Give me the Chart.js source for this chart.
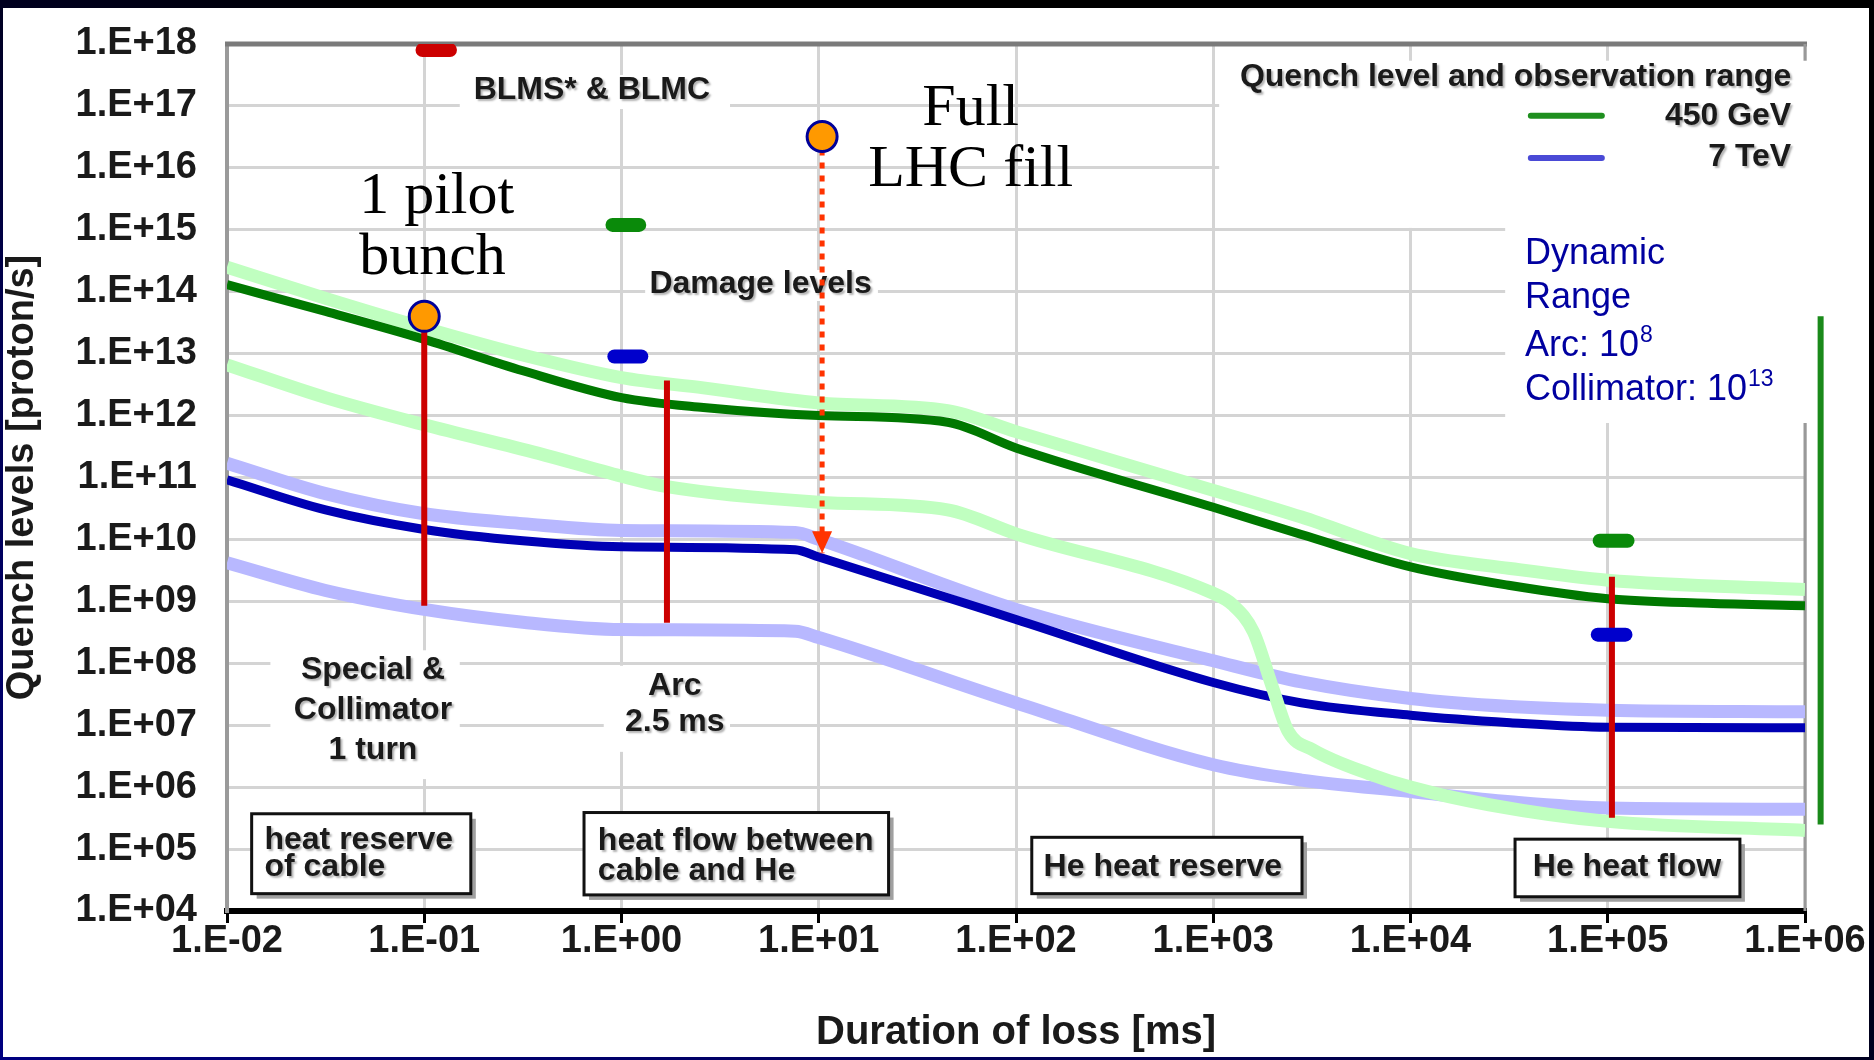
<!DOCTYPE html>
<html>
<head>
<meta charset="utf-8">
<title>Quench levels</title>
<script src="https://cdn.jsdelivr.net/npm/chart.js@4.4.1/dist/chart.umd.min.js"></script>
<style>
  html, body { margin: 0; padding: 0; }
  body {
    width: 1874px; height: 1060px; overflow: hidden; position: relative;
    background: linear-gradient(to top right, #000080 0%, #000050 35%, #000 60%);
  }
  #sheet { position: absolute; left: 3px; top: 8px; right: 5px; bottom: 3px; background: #fff; }
  #wrap { position: absolute; left: 0; top: 0; width: 1874px; height: 1060px; }
</style>
</head>
<body>
<div id="sheet"></div>
<div id="wrap"><canvas id="chart" width="1874" height="1060"></canvas></div>
<script>
// axis ticks
const xTickValues = [1e-2, 1e-1, 1e0, 1e1, 1e2, 1e3, 1e4, 1e5, 1e6];
const xTickLabels = ['1.E-02', '1.E-01', '1.E+00', '1.E+01', '1.E+02', '1.E+03', '1.E+04', '1.E+05', '1.E+06'];
const yTickValues = [1e4, 1e5, 1e6, 1e7, 1e8, 1e9, 1e10, 1e11, 1e12, 1e13, 1e14, 1e15, 1e16, 1e17, 1e18];
const yTickLabels = ['1.E+04', '1.E+05', '1.E+06', '1.E+07', '1.E+08', '1.E+09', '1.E+10', '1.E+11',
                     '1.E+12', '1.E+13', '1.E+14', '1.E+15', '1.E+16', '1.E+17', '1.E+18'];

// 450 GeV: quench level and observation range (duration in ms, protons/s)
const dur450 = [0.01, 0.0316, 0.1, 0.316, 1, 2.6, 10, 45, 100, 1000, 2800, 1e4, 3.2e4, 1e5, 3.2e5, 1e6];
const quench450 = [1.3e14, 4.8e13, 1.7e13, 5.3e12, 1.95e12, 1.35e12, 1.0e12, 7.8e11, 3.0e11, 3.3e10,
                   1.2e10, 3.6e9, 1.8e9, 1.1e9, 9.3e8, 8.5e8];
const dur450Up = [0.01, 0.0316, 0.1, 0.316, 1, 2.6, 10, 45, 100, 1000, 2800, 1e4, 3.2e4, 1e5, 1e6];
const range450Up = [2.5e14, 7.8e13, 2.6e13, 9.5e12, 4.1e12, 2.8e12, 1.6e12, 1.2e12, 5.5e11, 6.2e10,
                    2.3e10, 5.9e9, 3.4e9, 2.2e9, 1.55e9];
const dur450Low = [0.01, 0.0316, 0.1, 0.38, 1, 1.7, 10, 45, 100, 1000, 1250, 1600, 2000, 2400, 3200,
                   6300, 1e4, 2.5e4, 1e5, 1e6];
const range450Low = [6.6e12, 1.95e12, 7.1e11, 2.45e11, 1.05e11, 7.1e10, 4.0e10, 3.0e10, 1.23e10, 1.35e9,
                     8.9e8, 3.2e8, 4.0e7, 7.9e6, 4.0e6, 1.6e6, 1.0e6, 5.2e5, 2.8e5, 2.0e5];

// 7 TeV: quench level and observation range
const dur7 = [0.01, 0.0316, 0.1, 0.316, 1, 7.6, 10, 100, 1000, 2800, 1e4, 3.2e4, 1e5, 1e6];
const quench7 = [9.2e10, 3.0e10, 1.45e10, 9.5e9, 7.6e9, 6.8e9, 5.2e9, 5.1e8, 4.9e7, 2.3e7, 1.45e7,
                 1.1e7, 9.3e6, 9.1e6];
const range7Up = [1.7e11, 5.5e10, 2.6e10, 1.8e10, 1.4e10, 1.3e10, 1.0e10, 7.4e8, 1.1e8, 5.0e7, 2.7e7,
                  2.0e7, 1.75e7, 1.65e7];
const range7Low = [4.2e9, 1.5e9, 7.4e8, 4.6e8, 3.5e8, 3.3e8, 2.6e8, 2.3e7, 2.3e6, 1.3e6, 8.5e5, 5.8e5,
                   4.6e5, 4.4e5];

// BLM observation ranges (red bars)
const redX = [0.1, 1.7, 1.05e5];
const redTop = [4e13, 3.7e12, 2.5e9];
const redBottom = [8.5e8, 4.5e8, 3.2e5];

// damage levels (short bars)
const damageFrom = [0.098, 0.9, 0.92, 9.1e4, 8.9e4];
const damageTo = [0.135, 1.23, 1.26, 1.26e5, 1.23e5];
const damageLevel = [8e17, 1.2e15, 9e12, 9.5e9, 2.9e8];

// beam intensities: 1 pilot bunch, full LHC fill
const beamX = [0.1, 10.4];
const beamY = [4e13, 3.2e16];
const fillDropY = [3.2e16, 6e9];

// dynamic range bar on the right
const rangeBarX = 1.2e6;
const rangeBarY = [4e13, 2.5e5];

const damageColors = ['#cc0000', '#0a8a0a', '#0000cc', '#0a8a0a', '#0000cc'];

const P = e => Math.pow(10, e);
const pts = (xs, ys) => xs.map((x, i) => ({x, y: ys[i]}));

// annotation layout, in decades (log10 of axis values)
const whitePatches = [
  {x: [3.03, 6.02], y: [15.03, 17.73]},
  {x: [4.48, 6.02], y: [11.88, 15.05]},
  {x: [-0.82, 0.55], y: [16.95, 17.5]},
  {x: [0.12, 1.3], y: [13.85, 14.35]},
  {x: [-1.78, -0.82], y: [6.13, 8.21]},
  {x: [-0.09, 0.55], y: [6.57, 7.96]}
];
const grayNotes = [
  {text: 'BLMS* & BLMC', x: -0.15, y: 17.25, align: 'center'},
  {text: 'Damage levels', x: 0.705, y: 14.12, align: 'center'},
  {text: 'Special &', x: -1.26, y: 7.89, align: 'center'},
  {text: 'Collimator', x: -1.26, y: 7.25, align: 'center'},
  {text: '1 turn', x: -1.26, y: 6.59, align: 'center'},
  {text: 'Arc', x: 0.27, y: 7.63, align: 'center'},
  {text: '2.5 ms', x: 0.27, y: 7.05, align: 'center'},
  {text: 'Quench level and observation range', x: 5.93, y: 17.47, align: 'right'},
  {text: '450 GeV', x: 5.93, y: 16.83, align: 'right'},
  {text: '7 TeV', x: 5.93, y: 16.17, align: 'right'}
];
const legendLines = [
  {y: 16.84, color: '#1f8f1f'},
  {y: 16.16, color: '#4a4ad6'}
];
const framedBoxes = [
  {x: [-1.875, -0.764], y: [4.28, 5.57], tx: -1.81, ty: [5.15, 4.7], lines: ['heat reserve', 'of cable']},
  {x: [-0.19, 1.354], y: [4.26, 5.59], tx: -0.12, ty: [5.13, 4.65], lines: ['heat flow between', 'cable and He']},
  {x: [2.08, 3.45], y: [4.28, 5.19], tx: 2.14, ty: [4.7], lines: ['He heat reserve']},
  {x: [4.53, 5.67], y: [4.23, 5.16], tx: 4.62, ty: [4.7], lines: ['He heat flow']}
];
const serifNotes = [
  {text: '1 pilot', x: -1.33, y: 15.27, align: 'left'},
  {text: 'bunch', x: -1.33, y: 14.29, align: 'left'},
  {text: 'Full', x: 1.77, y: 16.69, align: 'center'},
  {text: 'LHC fill', x: 1.77, y: 15.71, align: 'center'}
];
const blueNotes = [
  {parts: ['Dynamic'], y: 14.44},
  {parts: ['Range'], y: 13.74},
  {parts: ['Arc: 10', '8'], y: 12.96},
  {parts: ['Collimator: 10', '13'], y: 12.25}
];
const blueNoteX = 4.58;

const SANS = "'Liberation Sans', Arial, sans-serif";

const decor = {
  id: 'decor',
  beforeDatasetsDraw(chart) {
    const {ctx, chartArea: a, scales: {x, y}} = chart;
    const px = e => x.getPixelForValue(P(e));
    const py = e => y.getPixelForValue(P(e));
    ctx.save();

    // top and right frame
    ctx.strokeStyle = '#7a7a7a';
    ctx.lineWidth = 5;
    ctx.beginPath(); ctx.moveTo(a.left - 2, a.top); ctx.lineTo(a.right + 2, a.top); ctx.stroke();
    ctx.strokeStyle = '#999';
    ctx.lineWidth = 3;
    ctx.beginPath(); ctx.moveTo(a.right, a.top); ctx.lineTo(a.right, a.bottom); ctx.stroke();

    // white patches behind the notes
    ctx.fillStyle = '#fff';
    whitePatches.forEach(b => {
      const l = px(b.x[0]), r = px(b.x[1]), t = py(b.y[1]), bt = py(b.y[0]);
      ctx.fillRect(l, t, r - l, bt - t);
    });

    // framed boxes with shadow
    framedBoxes.forEach(b => {
      const l = px(b.x[0]), r = px(b.x[1]), t = py(b.y[1]), bt = py(b.y[0]);
      ctx.fillStyle = '#a0a0a0';
      ctx.fillRect(l + 5, t + 5, r - l, bt - t);
      ctx.fillStyle = '#fff';
      ctx.fillRect(l, t, r - l, bt - t);
      ctx.strokeStyle = '#111';
      ctx.lineWidth = 3;
      ctx.strokeRect(l, t, r - l, bt - t);
    });

    // gray texts
    ctx.shadowColor = 'rgba(0,0,0,0.3)';
    ctx.shadowOffsetX = 2;
    ctx.shadowOffsetY = 2;
    ctx.shadowBlur = 2;
    ctx.fillStyle = '#1a1a1a';
    ctx.font = 'bold 32px ' + SANS;
    ctx.textBaseline = 'middle';
    grayNotes.forEach(n => {
      ctx.textAlign = n.align;
      ctx.fillText(n.text, px(n.x), py(n.y));
    });
    ctx.textAlign = 'left';
    framedBoxes.forEach(b => {
      b.lines.forEach((s, i) => ctx.fillText(s, px(b.tx), py(b.ty[i])));
    });
    ctx.shadowColor = 'transparent';

    // legend glyphs
    ctx.lineWidth = 6;
    ctx.lineCap = 'round';
    legendLines.forEach(l => {
      ctx.strokeStyle = l.color;
      ctx.beginPath(); ctx.moveTo(px(4.61), py(l.y)); ctx.lineTo(px(4.97), py(l.y)); ctx.stroke();
    });

    // dynamic range note
    ctx.fillStyle = '#0000a0';
    ctx.textBaseline = 'alphabetic';
    ctx.textAlign = 'left';
    blueNotes.forEach(n => {
      let cx = px(blueNoteX);
      const cy = py(n.y);
      ctx.font = '36px ' + SANS;
      ctx.fillText(n.parts[0], cx, cy);
      if (n.parts[1]) {
        cx += ctx.measureText(n.parts[0]).width + 1;
        ctx.font = '23px ' + SANS;
        ctx.fillText(n.parts[1], cx, cy - 14);
      }
    });

    // serif labels
    ctx.fillStyle = '#000';
    ctx.font = "60px 'Liberation Serif', 'Times New Roman', serif";
    serifNotes.forEach(n => {
      ctx.textAlign = n.align;
      ctx.fillText(n.text, px(n.x), py(n.y));
    });
    ctx.restore();
  },
  afterDatasetsDraw(chart) {
    // arrow head at the end of the dotted line
    const meta = chart.getDatasetMeta(chart.data.datasets.findIndex(d => d.label === 'fill drop'));
    const tip = meta.data[1];
    const {ctx} = chart;
    ctx.save();
    ctx.fillStyle = '#ff3300';
    ctx.beginPath();
    ctx.moveTo(tip.x - 10, tip.y - 22);
    ctx.lineTo(tip.x + 10, tip.y - 22);
    ctx.lineTo(tip.x, tip.y);
    ctx.closePath();
    ctx.fill();
    ctx.restore();
  }
};

const curve = (label, xs, ys, color, width, order) => ({
  label, data: pts(xs, ys), borderColor: color, borderWidth: width, order,
  showLine: true, pointRadius: 0, cubicInterpolationMode: 'monotone', borderJoinStyle: 'round'
});

const datasets = [
  curve('7 TeV range low', dur7, range7Low, '#b8b8ff', 13, 20),
  curve('7 TeV range up', dur7, range7Up, '#b8b8ff', 13, 19),
  curve('7 TeV quench', dur7, quench7, '#0000b4', 9, 18),
  curve('450 GeV range low', dur450Low, range450Low, '#c0ffc0', 13, 17),
  curve('450 GeV range up', dur450Up, range450Up, '#c0ffc0', 13, 16),
  curve('450 GeV quench', dur450, quench450, '#007800', 9, 15),
  ...redX.map((x, i) => ({
    label: 'BLM range ' + i, data: [{x, y: redTop[i]}, {x, y: redBottom[i]}],
    borderColor: '#cc0000', borderWidth: 6, showLine: true, pointRadius: 0, order: 10
  })),
  {
    label: 'fill drop', data: [{x: beamX[1], y: fillDropY[0]}, {x: beamX[1], y: fillDropY[1]}],
    borderColor: '#ff3300', borderWidth: 5, borderDash: [6, 7], showLine: true, pointRadius: 0, order: 8
  },
  ...damageLevel.map((v, i) => ({
    label: 'damage ' + i, data: [{x: damageFrom[i], y: v}, {x: damageTo[i], y: v}],
    borderColor: damageColors[i], borderWidth: 14, borderCapStyle: 'round',
    showLine: true, pointRadius: 0, order: 6
  })),
  {
    label: 'beams', data: pts(beamX, beamY), showLine: false, pointRadius: 15,
    pointBackgroundColor: '#ff9900', pointBorderColor: '#000099', pointBorderWidth: 3, order: 2
  },
  {
    label: 'dynamic range', data: [{x: rangeBarX, y: rangeBarY[0]}, {x: rangeBarX, y: rangeBarY[1]}],
    borderColor: '#1a8a1a', borderWidth: 6, showLine: true, pointRadius: 0, clip: false, order: 2
  }
];

const tickFont = {family: SANS, size: 38, weight: 'bold'};

new Chart(document.getElementById('chart'), {
  type: 'scatter',
  data: {datasets},
  plugins: [decor],
  options: {
    responsive: false,
    animation: false,
    events: [],
    layout: {padding: {left: 0, top: 44, right: 69, bottom: 0}},
    plugins: {legend: {display: false}, tooltip: {enabled: false}},
    scales: {
      x: {
        type: 'logarithmic', min: 1e-2, max: 1e6,
        afterBuildTicks: s => { s.ticks = xTickValues.map(v => ({value: v})); },
        afterFit: s => { s.height = 149; },
        ticks: {
          callback: (v, i) => xTickLabels[i], autoSkip: false, maxRotation: 0,
          padding: -4, color: '#1a1a1a', font: tickFont
        },
        grid: {color: '#d4d4d4', lineWidth: 3, tickColor: '#000', tickLength: 12, tickWidth: 3},
        border: {color: '#000', width: 6},
        title: {
          display: true, text: 'Duration of loss [ms]', color: '#1a1a1a',
          font: {family: SANS, size: 40, weight: 'bold'},
          padding: {top: 0, bottom: 3}
        }
      },
      y: {
        type: 'logarithmic', min: 1e4, max: 1e18,
        afterBuildTicks: s => { s.ticks = yTickValues.map(v => ({value: v})); },
        afterFit: s => { s.width = 227; s.paddingTop = 0; s.paddingBottom = 0; },
        ticks: {
          callback: (v, i) => yTickLabels[i], autoSkip: false,
          padding: 30, color: '#1a1a1a', font: tickFont
        },
        grid: {color: '#d4d4d4', lineWidth: 3, drawTicks: false},
        border: {color: '#9a9a9a', width: 4},
        title: {
          display: true, text: 'Quench levels [proton/s]', color: '#1a1a1a',
          font: {family: SANS, size: 38, weight: 'bold'},
          padding: {top: 0, bottom: 0}
        }
      }
    }
  }
});
</script>
</body>
</html>
